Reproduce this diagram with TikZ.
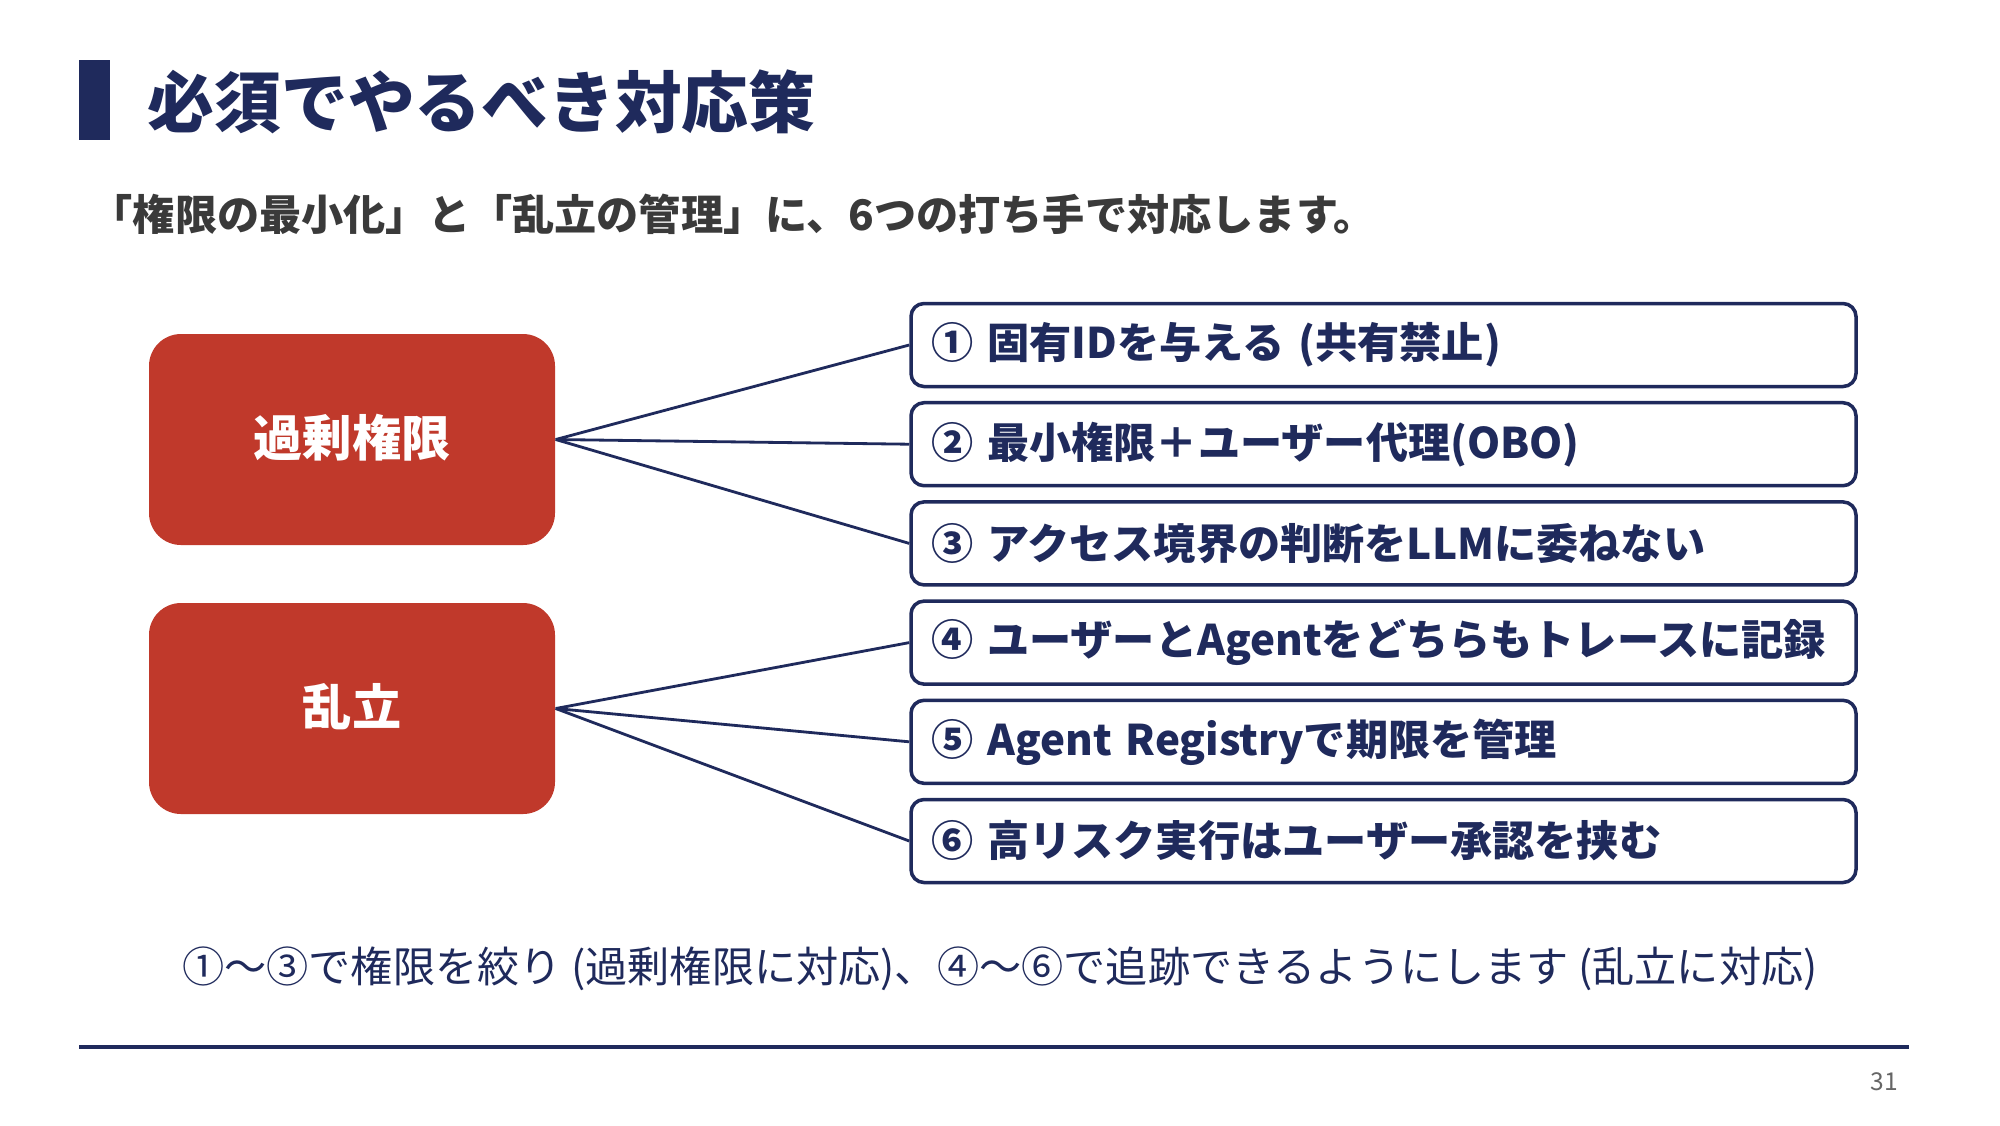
\documentclass[tikz,border=0pt]{standalone}
\usepackage{fontspec}
\setmainfont{Noto Sans CJK JP}
\definecolor{navy}{HTML}{1F2A5C}
\definecolor{brick}{HTML}{C0392B}
\definecolor{subgray}{HTML}{3A3A3A}
\definecolor{pggray}{HTML}{666666}
\newcommand{\catlift}[1]{\raisebox{0.08cm}{#1}}
\tikzset{
  catbox/.style={fill=brick, draw=none, rounded corners=0.32cm, minimum width=4.06cm, minimum height=2.11cm, text=white, font=\fontsize{14}{16}\selectfont\bfseries, inner sep=0pt},
  itembox/.style={draw=navy, line width=1pt, fill=white, rounded corners=0.13cm, minimum width=9.45cm, minimum height=0.83cm, text width=9.05cm, align=left, inner xsep=0.2cm, inner ysep=0pt, text=navy, font=\fontsize{12}{14}\selectfont\bfseries},
  link/.style={draw=navy, line width=0.8pt},
}
\begin{document}
\begin{tikzpicture}
\useasboundingbox (0,0) rectangle (20,-11.25);
\fill[white] (0,0) rectangle (20,-11.25);
% title
\fill[navy] (0.79,-0.60) rectangle (1.10,-1.40);
\node[anchor=west, inner sep=0pt, text=navy, font=\fontsize{19}{22}\selectfont\bfseries] (title) at (1.47,-1.02) {必須でやるべき対応策};
\node[anchor=west, inner sep=0pt, text=subgray, font=\fontsize{12}{14}\selectfont\bfseries] (subtitle) at (0.90,-2.14) {「権限の最小化」と「乱立の管理」に、6つの打ち手で対応します。};
% category boxes
\node[catbox] (c1) at (3.52,-4.395) {\catlift{過剰権限}};
\node[catbox] (c2) at (3.52,-7.085) {\catlift{乱立}};
% item boxes
\node[itembox] (r1) at (13.835,-3.45) {① 固有IDを与える (共有禁止)};
\node[itembox] (r2) at (13.835,-4.442) {② 最小権限＋ユーザー代理(OBO)};
\node[itembox] (r3) at (13.835,-5.434) {③ アクセス境界の判断をLLMに委ねない};
\node[itembox] (r4) at (13.835,-6.426) {④ ユーザーとAgentをどちらもトレースに記録};
\node[itembox] (r5) at (13.835,-7.418) {⑤ Agent Registryで期限を管理};
\node[itembox] (r6) at (13.835,-8.41) {⑥ 高リスク実行はユーザー承認を挟む};
% connectors
\draw[link] (c1.east) -- (r1.west);
\draw[link] (c1.east) -- (r2.west);
\draw[link] (c1.east) -- (r3.west);
\draw[link] (c2.east) -- (r4.west);
\draw[link] (c2.east) -- (r5.west);
\draw[link] (c2.east) -- (r6.west);
% bottom note
\node[inner sep=0pt, text=navy, font=\fontsize{12}{14}\selectfont] (note) at (10,-9.69) {①～③で権限を絞り (過剰権限に対応)、④～⑥で追跡できるようにします (乱立に対応)};
% footer rule and page number
\draw[navy, line width=1.2pt] (0.79,-10.47) -- (19.09,-10.47);
\node[inner sep=0pt, text=pggray, font=\fontsize{7}{8}\selectfont] (pg) at (18.84,-10.82) {31};
\end{tikzpicture}
\end{document}
